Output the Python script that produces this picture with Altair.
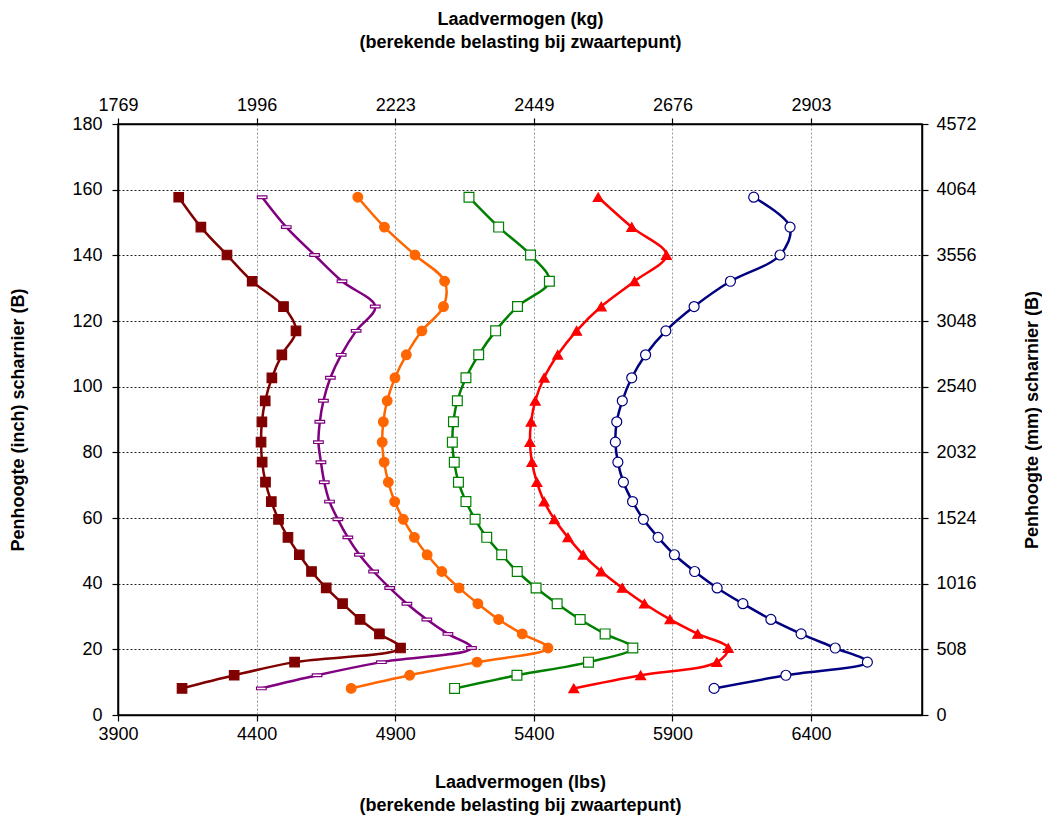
import altair as alt
import pandas as pd

# ---- data ----
heights = [8.1, 12.1, 16.1, 20.4, 24.7, 29.1, 33.9, 38.7, 43.7, 48.8, 54.1, 59.6, 65.0,
           70.9, 77.0, 83.1, 89.3, 95.7, 102.7, 109.7, 117.0, 124.4, 132.1, 140.1, 148.6, 157.7]

s_brown = [4131, 4319, 4537, 4919, 4843, 4773, 4710, 4651, 4598, 4554, 4513, 4479, 4453,
           4432, 4420, 4416, 4419, 4431, 4455, 4491, 4542, 4497, 4384, 4293, 4199, 4119]
s_purple = [4417, 4618, 4850, 5175, 5090, 5014, 4942, 4880, 4822, 4771, 4729, 4693, 4663,
            4644, 4632, 4623, 4628, 4641, 4666, 4705, 4759, 4828, 4708, 4609, 4507, 4420]
s_orange = [4741, 4952, 5195, 5451, 5358, 5273, 5198, 5130, 5068, 5015, 4969, 4929, 4898,
            4875, 4860, 4853, 4857, 4871, 4899, 4940, 4996, 5074, 5078, 4971, 4861, 4765]
s_green = [5114, 5339, 5597, 5757, 5657, 5567, 5484, 5408, 5340, 5284, 5230, 5188, 5155,
           5128, 5113, 5106, 5110, 5124, 5155, 5201, 5262, 5341, 5456, 5388, 5273, 5166]
s_red = [5544, 5785, 6060, 6101, 5991, 5891, 5799, 5719, 5643, 5578, 5523, 5474, 5437,
         5411, 5393, 5386, 5390, 5405, 5437, 5486, 5554, 5643, 5763, 5878, 5753, 5632]
s_blue = [6050, 6309, 6603, 6487, 6364, 6255, 6154, 6061, 5980, 5907, 5848, 5795, 5756,
          5723, 5703, 5694, 5699, 5719, 5753, 5803, 5876, 5978, 6109, 6288, 6324, 6193]

series_names = ["S1", "S2", "S3", "S4", "S5", "S6"]
series_values = [s_brown, s_purple, s_orange, s_green, s_red, s_blue]

lbs_ticks = [3900, 4400, 4900, 5400, 5900, 6400]
kg_labels = ["1769", "1996", "2223", "2449", "2676", "2903"]
inch_ticks = [0, 20, 40, 60, 80, 100, 120, 140, 160, 180]
mm_labels = ["0", "508", "1016", "1524", "2032", "2540", "3048", "3556", "4064", "4572"]

# ---- styles ----
colors = ["#800000", "#800080", "#FF6600", "#008000", "#FF0000", "#000080"]
fills = ["#800000", "white", "#FF6600", "white", "#FF0000", "white"]
dash_shape = "M-1,-0.28L1,-0.28L1,0.28L-1,0.28Z"
shapes = ["square", dash_shape, "circle", "square", "triangle-up", "circle"]
sizes = [90, 100, 70, 100, 95, 100]

rows = []
for name, vals in zip(series_names, series_values):
    for i, (h, v) in enumerate(zip(heights, vals)):
        rows.append({"series": name, "idx": i, "height": h, "load": v})
df = pd.DataFrame(rows)


def lookup_expr(keys, labels):
    expr = "''"
    for k, lab in reversed(list(zip(keys, labels))):
        expr = f"datum.value == {k} ? '{lab}' : ({expr})"
    return expr


FONT = "Liberation Sans"
xscale = alt.Scale(domain=[3900, 6800], nice=False, zero=False)
yscale = alt.Scale(domain=[0, 180], nice=False, zero=True)
cscale = alt.Scale(domain=series_names, range=colors)

common_axis = dict(labelFont=FONT, titleFont=FONT, labelFontSize=18, titleFontSize=18,
                   titleFontWeight="bold", labelColor="black", titleColor="black",
                   domainColor="black", domainWidth=1.5, tickColor="black", tickSize=6,
                   tickWidth=1.2, labelFlush=False, titleLineHeight=23)

lines = alt.Chart(df).mark_line(interpolate="catmull-rom", strokeWidth=2.5).encode(
    x=alt.X("load:Q", scale=xscale,
            axis=alt.Axis(orient="bottom", values=lbs_ticks, format="d",
                          title=["Laadvermogen (lbs)", "(berekende belasting bij zwaartepunt)"],
                          titlePadding=30, labelPadding=4, grid=True, gridColor="#999999",
                          gridDash=[2, 2], gridWidth=1, **common_axis)),
    y=alt.Y("height:Q", scale=yscale,
            axis=alt.Axis(orient="left", values=inch_ticks, format="d",
                          title="Penhoogte (inch) scharnier (B)", titlePadding=44,
                          labelPadding=10, grid=True, gridColor="#222222", gridDash=[2, 2],
                          gridWidth=1, **common_axis)),
    color=alt.Color("series:N", scale=cscale, legend=None),
    order=alt.Order("idx:Q"),
)

points = alt.Chart(df).mark_point(filled=True, opacity=1, strokeWidth=1.2).encode(
    x=alt.X("load:Q", scale=xscale,
            axis=alt.Axis(orient="top", values=lbs_ticks,
                          labelExpr=lookup_expr(lbs_ticks, kg_labels),
                          title=["Laadvermogen (kg)", "(berekende belasting bij zwaartepunt)"],
                          titlePadding=45, labelPadding=4, grid=False, **common_axis)),
    y=alt.Y("height:Q", scale=yscale,
            axis=alt.Axis(orient="right", values=inch_ticks,
                          labelExpr=lookup_expr(inch_ticks, mm_labels),
                          title="Penhoogte (mm) scharnier (B)", titleAngle=270,
                          titlePadding=65, labelPadding=8, grid=False, **common_axis)),
    shape=alt.Shape("series:N", scale=alt.Scale(domain=series_names, range=shapes), legend=None),
    size=alt.Size("series:N", scale=alt.Scale(domain=series_names, range=sizes), legend=None),
    fill=alt.Fill("series:N", scale=alt.Scale(domain=series_names, range=fills), legend=None),
    stroke=alt.Stroke("series:N", scale=cscale, legend=None),
)

chart = alt.layer(lines, points).resolve_axis(x="independent", y="independent").properties(
    width=804, height=591,
    autosize=alt.AutoSizeParams(type="none"),
    padding={"left": 118, "top": 124, "right": 120, "bottom": 101},
    background="white",
).configure_view(stroke="black", strokeWidth=1.5)

chart.save("out.html", embed_options={"renderer": "svg", "actions": False})
